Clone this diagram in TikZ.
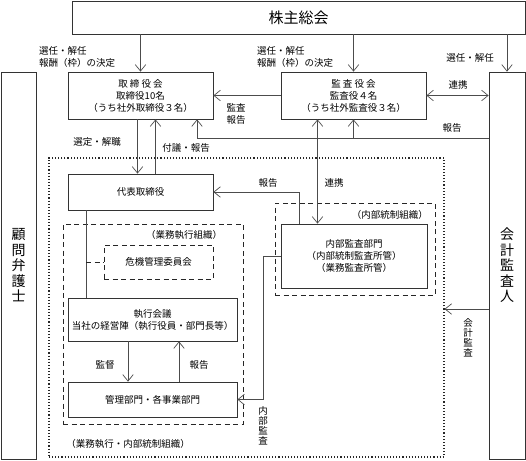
\documentclass[tikz,border=0pt]{standalone}
\usepackage{fontspec}
\setmainfont{Noto Sans CJK JP}
\usetikzlibrary{arrows.meta}

\begin{document}
\begin{tikzpicture}[x=1pt, y=-1pt,
		every node/.style={font=\fontsize{9.5}{12}\selectfont},
		box/.style={draw=black!80, line width=0.7pt, fill=white, align=center, inner sep=0pt},
		vbox/.style={box, font=\fontsize{14}{15.5}\selectfont},
		outerframe/.style={draw=black!85, line width=1.1pt, dotted},
		innerframe/.style={draw=black!85, line width=0.9pt, dash pattern=on 5pt off 3.5pt},
		link/.style={draw=black!70, line width=0.7pt},
		arr/.style={link, -{Straight Barb[length=6.5pt, width=10.5pt]}},
		darr/.style={link, {Straight Barb[length=6.5pt, width=10.5pt]}-{Straight Barb[length=6.5pt, width=10.5pt]}},
		lbl/.style={inner sep=0pt},
		vlbl/.style={inner sep=0pt, align=center, font=\fontsize{9.5}{10}\selectfont}]

		\useasboundingbox (0, 0) rectangle (526, 460);

		% frames
		\node[outerframe, minimum width=395, minimum height=299] at (246.5, 307.5) (outer) {};
		\node[innerframe, minimum width=180, minimum height=200] at (153, 324) (gyomu) {};
		\node[innerframe, minimum width=160, minimum height=92] at (355, 249) (naibutosei) {};

		% boxes
		\node[box, minimum width=453, minimum height=33, font=\fontsize{15}{17}\selectfont] at (298.5, 17.5) (kabunushi) {株主総会};
		\node[box, minimum width=145, minimum height=47] at (140.5, 95.5) (torishimari) {取 締 役 会\\取締役10名\\（うち社外取締役３名）};
		\node[box, minimum width=145, minimum height=47] at (353.5, 95.5) (kansa) {監 査 役 会\\監査役４名\\（うち社外監査役３名）};
		\node[vbox, minimum width=35, minimum height=387] at (18.5, 265.5) (komon) {顧\\問\\弁\\護\\士};
		\node[vbox, minimum width=36, minimum height=387] at (507, 265.5) (kaikei) {会\\計\\監\\査\\人};
		\node[box, minimum width=145, minimum height=36] at (140.5, 192) (daihyo) {代表取締役};
		\node[box, minimum width=146, minimum height=64] at (354, 256) (naibu) {内部監査部門\\（内部統制監査所管）\\（業務監査所管）};
		\node[box, innerframe, minimum width=109, minimum height=34] at (158.5, 262) (kiki) {危機管理委員会};
		\node[box, minimum width=169, minimum height=43] at (152.5, 319.5) (shikko) {執行会議\\当社の経営陣（執行役員・部門長等）};
		\node[box, minimum width=169, minimum height=35] at (152.5, 399.5) (kanri) {管理部門・各事業部門};

		% connectors
		\draw[arr] (kabunushi.south -| torishimari.north) -- (torishimari.north);
		\draw[arr] (kabunushi.south -| kansa.north) -- (kansa.north);
		\draw[arr] (kabunushi.south -| kaikei.north) -- (kaikei.north);
		\draw[darr] (kansa.east) -- (kansa.east -| kaikei.west);
		\draw[arr] (kansa.west) -- (torishimari.east);
		\coordinate (hokoku) at (197, 138);
		\draw[link] (kaikei.west |- hokoku) -- (hokoku);
		\draw[arr] (hokoku) -- (hokoku |- torishimari.south);
		\draw[arr] (kansa.south |- hokoku) -- (kansa.south);
		\draw[arr] ([xshift=-3pt]torishimari.south) -- ([xshift=-3pt]daihyo.north);
		\draw[arr] ([xshift=15pt]daihyo.north) -- ([xshift=15pt]torishimari.south);
		\draw[arr] ([xshift=-55pt]naibu.north) |- (daihyo.east);
		\draw[darr] ([xshift=-36pt]kansa.south) -- ([xshift=-36pt]kansa.south |- naibu.north);
		\draw[link] ([xshift=-54.5pt]daihyo.south) -- ([xshift=-54.5pt]daihyo.south |- shikko.north);
		\draw[innerframe] ([xshift=-54.5pt]daihyo.south |- kiki.west) -- (kiki.west);
		\draw[arr] ([xshift=-24.5pt]shikko.south) -- ([xshift=-24.5pt]kanri.north);
		\draw[arr] ([xshift=26.5pt]kanri.north) -- ([xshift=26.5pt]shikko.south);
		\draw[arr] (naibu.west) -- ++(-17, 0) |- (kanri.east);
		\coordinate (kaikeiaudit) at (489, 309);
		\draw[arr] (kaikeiaudit) -- (kaikeiaudit -| outer.east);

		% labels
		\node[lbl, anchor=north west, align=left] at (39, 46.5) (senninA) {選任・解任\\報酬（枠）の決定};
		\node[lbl, anchor=north west, align=left] at (257, 46.5) (senninB) {選任・解任\\報酬（枠）の決定};
		\node[lbl] at (470, 58) (senninC) {選任・解任};
		\node[lbl] at (458, 85) (renkeiA) {連携};
		\node[lbl, align=center] at (236, 114) (kansahokoku) {監査\\報告};
		\node[lbl] at (452, 128) (hokokuA) {報告};
		\node[lbl] at (97, 142) (sentei) {選定・解職};
		\node[lbl] at (186, 148) (fugi) {付議・報告};
		\node[lbl] at (268, 183) (hokokuB) {報告};
		\node[lbl] at (334, 183) (renkeiB) {連携};
		\node[lbl, anchor=east] at (428, 215) (naibutoseilbl) {（内部統制組織）};
		\node[lbl] at (184, 235) (gyomulbl) {（業務執行組織）};
		\node[lbl] at (105, 365) (kantoku) {監督};
		\node[lbl] at (199, 365) (hokokuC) {報告};
		\node[lbl] at (128, 444) (outerlbl) {（業務執行・内部統制組織）};
		\node[vlbl] at (263, 426) (naibukansa) {内\\部\\監\\査};
		\node[vlbl] at (468, 338) (kaikeikansa) {会\\計\\監\\査};
	\end{tikzpicture}
\end{document}
